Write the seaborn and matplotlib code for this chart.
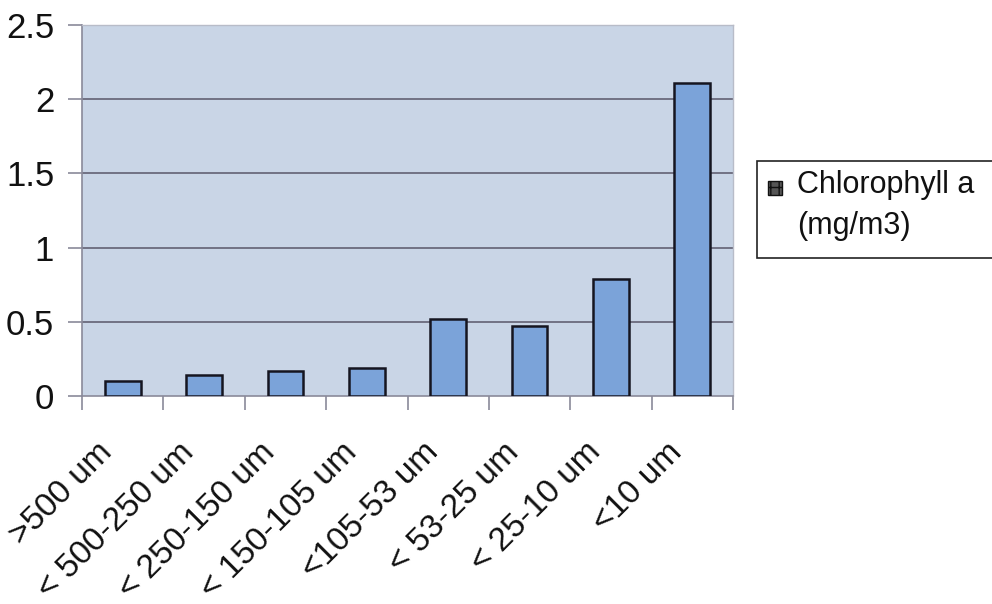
import matplotlib
matplotlib.use("Agg")
import matplotlib.pyplot as plt
import matplotlib.transforms as mtransforms
import seaborn as sns
import pandas as pd
from matplotlib.patches import Patch, Rectangle
from matplotlib.legend_handler import HandlerPatch

categories = [">500 um", "< 500-250 um", "< 250-150 um", "< 150-105 um",
              "<105-53 um", "< 53-25 um", "< 25-10 um", "<10 um"]
chlorophyll = [0.10, 0.14, 0.17, 0.19, 0.52, 0.47, 0.79, 2.11]
yticks = [0, 0.5, 1, 1.5, 2, 2.5]
ytick_labels = ["0", "0.5", "1", "1.5", "2", "2.5"]
series_name = "Chlorophyll a\n(mg/m3)"

sns.set_theme(style="white")
plt.rcParams['font.family'] = ['Liberation Sans', 'DejaVu Sans']

df = pd.DataFrame({"size": categories, "chl": chlorophyll})

fig = plt.figure(figsize=(9.92, 6.04), dpi=100)
ax = fig.add_axes([82/992, 1-396/604, (733-82)/992, (396-25)/604])
ax.set_facecolor("#C9D5E6")

sns.barplot(data=df, x="size", y="chl", ax=ax, color="#7BA3D9", width=0.44,
            edgecolor="#151520", linewidth=1.8, saturation=1, zorder=3)

ax.set_ylim(0, 2.5)
ax.set_xlim(-0.5, len(categories) - 0.5)
ax.set_yticks(yticks)
ax.set_yticklabels(ytick_labels, fontsize=25, color="#111111")
ax.set_xlabel("")
ax.set_ylabel("")
for y in yticks[1:-1]:
    ax.axhline(y, color="#6a6a7c", linewidth=1.3, zorder=1)

ax.set_xticks([i - 0.5 for i in range(len(categories) + 1)], minor=True)
ax.tick_params(axis="x", which="minor", length=10, width=1.2, color="#8a8a9a", bottom=True)
ax.tick_params(axis="x", which="major", length=0, pad=37)
ax.tick_params(axis="y", length=10, width=1.2, color="#8a8a9a", left=True, pad=10)
ax.set_xticks(range(len(categories)))
ax.set_xticklabels(categories, rotation=45, ha="right", va="center",
                   rotation_mode="anchor", fontsize=24, color="#111111")
offset = mtransforms.ScaledTranslation(-15/100, 0, fig.dpi_scale_trans)
for lab in ax.get_xticklabels():
    lab.set_transform(lab.get_transform() + offset)

for side in ["top", "right"]:
    ax.spines[side].set_color("#b8bcc8")
    ax.spines[side].set_linewidth(1)
ax.spines["left"].set_color("#8a8a9a")
ax.spines["bottom"].set_color("#8a8a9a")
ax.spines["left"].set_linewidth(1.2)
ax.spines["bottom"].set_linewidth(1.2)


def top_square(legend, orig_handle, xdescent, ydescent, width, height, fontsize):
    s = 0.46 * fontsize
    return Rectangle((-xdescent + (width - s) / 2, -ydescent + height - s - 0.05 * fontsize), s, s)


# legend frame running off the right edge, as in the reference
fig.patches.append(Rectangle((757/992, 1-258/604), 0.3, 97/604, transform=fig.transFigure,
                             fill=True, facecolor="white", edgecolor="#222222",
                             linewidth=1.2, zorder=4))

handle = Patch(facecolor="#555555", edgecolor="#111111", hatch="++")
leg = fig.legend([handle], [series_name], loc="upper left",
                 bbox_to_anchor=(757/992, 1-161/604), fontsize=22,
                 frameon=False, borderaxespad=0, handlelength=0.6, handleheight=2.4,
                 handletextpad=0.4, borderpad=0.3, labelspacing=0,
                 handler_map={Patch: HandlerPatch(patch_func=top_square)})
leg.set_zorder(5)
for t in leg.get_texts():
    t.set_linespacing(1.45)
    t.set_color("#111111")

fig.savefig("out.png", dpi=100)
